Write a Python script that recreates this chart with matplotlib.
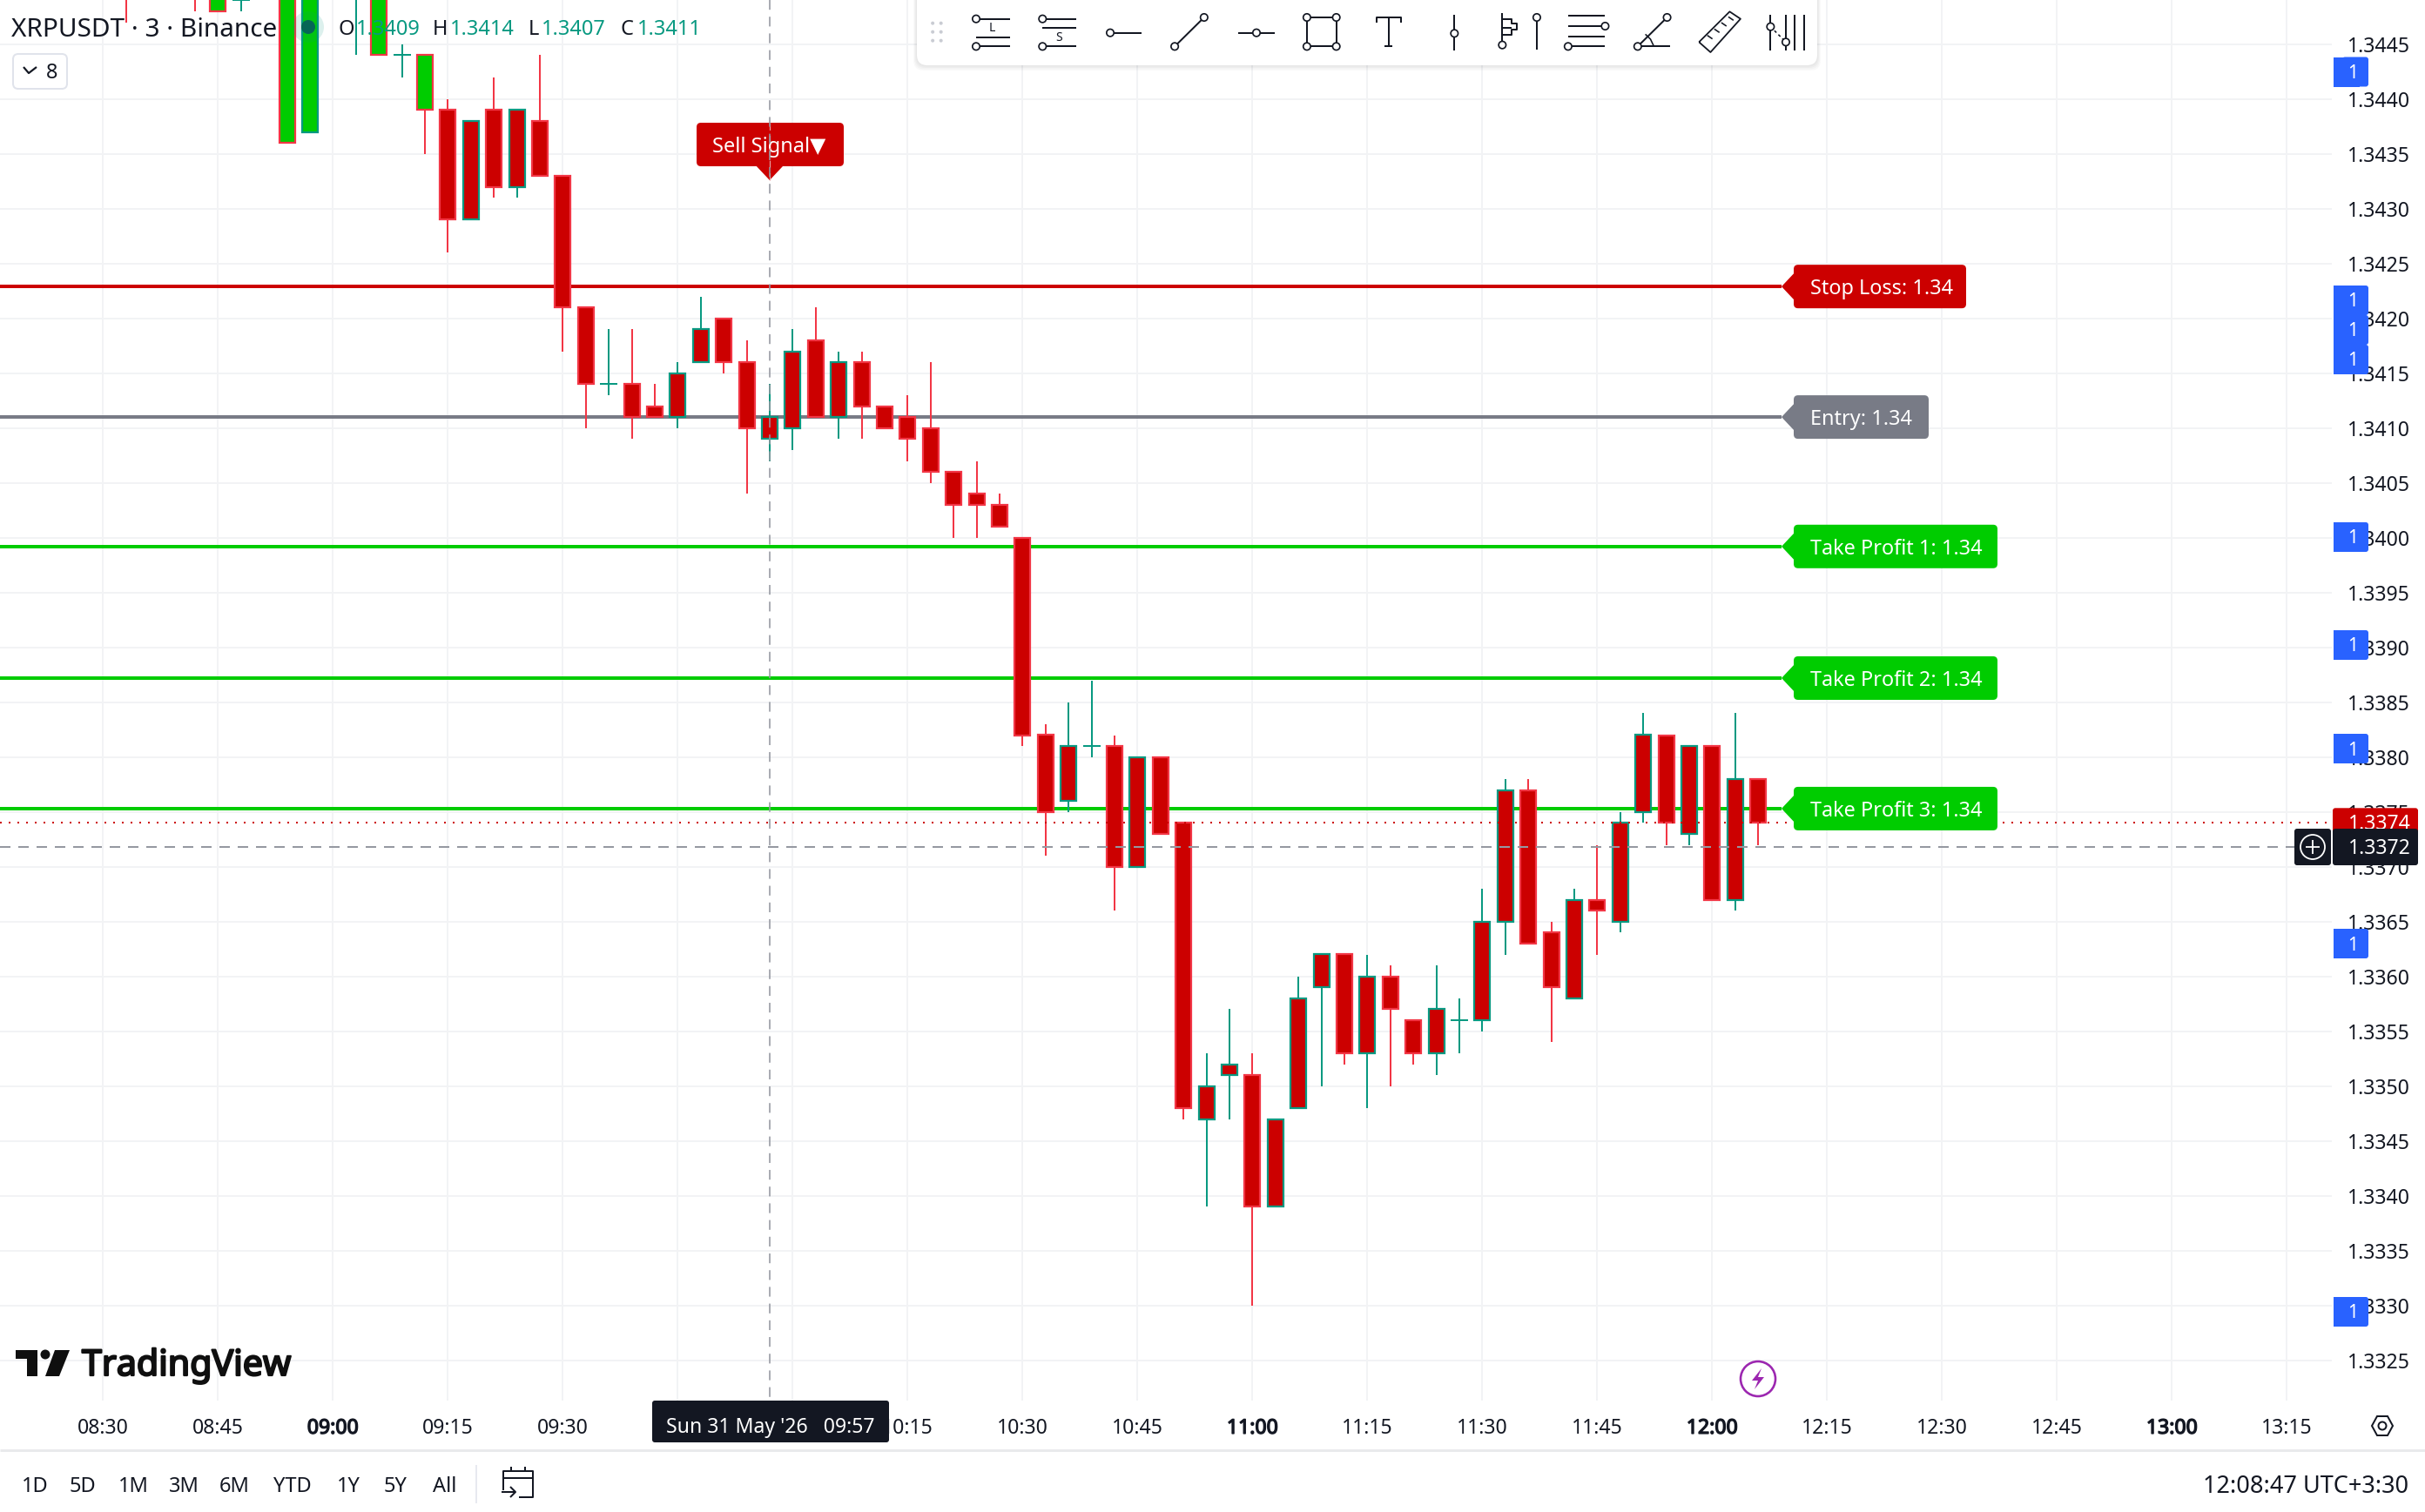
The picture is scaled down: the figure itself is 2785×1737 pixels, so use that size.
import matplotlib
matplotlib.use("Agg")
import matplotlib.pyplot as plt
import matplotlib.patheffects as pe
from matplotlib.patches import Rectangle, FancyBboxPatch, Polygon, Circle

plt.rcParams['font.family'] = ['Noto Sans', 'DejaVu Sans']

# ---------- data ----------
bar_times = ["08:33","08:36","08:39","08:42","08:45","08:48","08:51","08:54","08:57","09:00",
             "09:03","09:06","09:09","09:12","09:15","09:18","09:21","09:24","09:27","09:30",
             "09:33","09:36","09:39","09:42","09:45","09:48","09:51","09:54","09:57","10:00",
             "10:03","10:06","10:09","10:12","10:15","10:18","10:21","10:24","10:27","10:30",
             "10:33","10:36","10:39","10:42","10:45","10:48","10:51","10:54","10:57","11:00",
             "11:03","11:06","11:09","11:12","11:15","11:18","11:21","11:24","11:27","11:30",
             "11:33","11:36","11:39","11:42","11:45","11:48","11:51","11:54","11:57","12:00",
             "12:03","12:06"]
opens = [1.3453,1.3455,1.3456,1.3453,1.3452,1.3449,1.3452,1.3450,1.3437,1.3455,
         1.3450,1.3453,1.3444,1.3444,1.3439,1.3429,1.3439,1.3432,1.3438,1.3433,
         1.3421,1.3414,1.3414,1.3412,1.3411,1.3416,1.3420,1.3416,1.3409,1.3410,
         1.3418,1.3411,1.3416,1.3412,1.3411,1.3410,1.3406,1.3404,1.3403,1.3400,
         1.3382,1.3376,1.3381,1.3381,1.3370,1.3380,1.3374,1.3347,1.3351,1.3351,
         1.3339,1.3348,1.3359,1.3362,1.3353,1.3360,1.3356,1.3353,1.3356,1.3356,
         1.3365,1.3377,1.3364,1.3358,1.3367,1.3365,1.3375,1.3382,1.3373,1.3381,
         1.3367,1.3378]
closes = [1.3450,1.3452,1.3453,1.3451,1.3448,1.3449,1.3450,1.3436,1.3453,1.3453,
          1.3454,1.3444,1.3444,1.3439,1.3429,1.3438,1.3432,1.3439,1.3433,1.3421,
          1.3414,1.3414,1.3411,1.3411,1.3415,1.3419,1.3416,1.3410,1.3411,1.3417,
          1.3411,1.3416,1.3412,1.3410,1.3409,1.3406,1.3403,1.3403,1.3401,1.3382,
          1.3375,1.3381,1.3381,1.3370,1.3380,1.3373,1.3348,1.3350,1.3352,1.3339,
          1.3347,1.3358,1.3362,1.3353,1.3360,1.3357,1.3353,1.3357,1.3356,1.3365,
          1.3377,1.3363,1.3359,1.3367,1.3366,1.3374,1.3382,1.3374,1.3381,1.3367,
          1.3378,1.3374]
highs = [1.3454,1.3456,1.3457,1.3454,1.3452,1.3450,1.3453,1.3451,1.3454,1.3456,
         1.3455,1.3454,1.3445,1.3444,1.3440,1.3438,1.3442,1.3439,1.3444,1.3433,
         1.3421,1.3419,1.3419,1.3414,1.3416,1.3422,1.3420,1.3418,1.3414,1.3419,
         1.3421,1.3417,1.3417,1.3412,1.3413,1.3416,1.3406,1.3407,1.3404,1.3400,
         1.3383,1.3385,1.3387,1.3382,1.3380,1.3380,1.3374,1.3353,1.3357,1.3353,
         1.3347,1.3360,1.3362,1.3362,1.3362,1.3361,1.3356,1.3361,1.3358,1.3368,
         1.3378,1.3378,1.3365,1.3368,1.3372,1.3375,1.3384,1.3382,1.3381,1.3381,
         1.3384,1.3378]
lows = [1.3447,1.3451,1.3452,1.3448,1.3448,1.3448,1.3449,1.3436,1.3437,1.3452,
        1.3444,1.3444,1.3442,1.3435,1.3426,1.3429,1.3431,1.3431,1.3433,1.3417,
        1.3410,1.3413,1.3409,1.3411,1.3410,1.3416,1.3415,1.3404,1.3407,1.3408,
        1.3411,1.3409,1.3409,1.3410,1.3407,1.3405,1.3400,1.3400,1.3401,1.3381,
        1.3371,1.3375,1.3380,1.3366,1.3370,1.3373,1.3347,1.3339,1.3347,1.3330,
        1.3339,1.3348,1.3350,1.3352,1.3348,1.3350,1.3352,1.3351,1.3353,1.3355,
        1.3362,1.3363,1.3354,1.3358,1.3362,1.3364,1.3374,1.3372,1.3372,1.3367,
        1.3366,1.3372]
last_green_filled_bar = "09:12"

price_ticks = [1.3445,1.3440,1.3435,1.3430,1.3425,1.3420,1.3415,1.3410,1.3405,1.3400,1.3395,
               1.3390,1.3385,1.3380,1.3375,1.3370,1.3365,1.3360,1.3355,1.3350,1.3345,1.3340,
               1.3335,1.3330,1.3325]
time_ticks = ["08:30","08:45","09:00","09:15","09:30","09:45","10:00","10:15","10:30","10:45",
              "11:00","11:15","11:30","11:45","12:00","12:15","12:30","12:45","13:00","13:15"]
bold_time_ticks = ["09:00","11:00","12:00","13:00"]

level_names = ["Stop Loss: 1.34","Entry: 1.34","Take Profit 1: 1.34","Take Profit 2: 1.34","Take Profit 3: 1.34"]
level_prices = [1.34229,1.3411,1.33992,1.33872,1.33753]
last_price = 1.3374
cursor_price = 1.33718
cursor_time = "09:57"
signal_time = "09:57"
range_buttons = ["1D","5D","1M","3M","6M","YTD","1Y","5Y","All"]

# ---------- style ----------
W, H = 2785, 1737
PANE_R, PANE_B = 2678, 1609
RED, REDB, TEAL, GREEN = "#cc0000", "#f23645", "#089981", "#00cc00"
GRAY, INK, DARK, BLUE = "#787b86", "#131722", "#131722", "#2962ff"
GRID = "#f2f3f5"
px = 0.72  # points per pixel at dpi 100
FS = 16.6
DY = 3     # optical shift of centred text

def mins(s):
    h, m = s.split(":")
    return int(h) * 60 + int(m)

fig = plt.figure(figsize=(W / 100, H / 100), dpi=100, facecolor="white")
ax = fig.add_axes([0, 1 - PANE_B / H, PANE_R / W, PANE_B / H], zorder=1)
ax.set_xlim(660 - 1438.3 / 8.8, 660 + (PANE_R - 1438.3) / 8.8)
ax.set_ylim(1.3385 - (PANE_B - 806.7) / 126000, 1.3385 + 806.7 / 126000)
for s in ax.spines.values():
    s.set_visible(False)

ax.yaxis.tick_right()
ax.set_yticks(price_ticks)
ax.set_yticklabels([f"{p:.4f}" for p in price_ticks], fontsize=FS, color=INK)
ax.set_xticks([mins(t) for t in time_ticks])
ax.set_xticklabels(time_ticks, fontsize=FS, color=INK)
for lab, t in zip(ax.get_xticklabels(), time_ticks):
    if t in bold_time_ticks:
        lab.set_path_effects([pe.withStroke(linewidth=1.0, foreground=INK)])
ax.tick_params(axis="x", length=0, pad=14.3)
ax.tick_params(axis="y", length=0, pad=13)
ax.grid(True, color=GRID, lw=2 * px, zorder=0)
ax.set_axisbelow(True)

# level lines end at the label tips
tip_t = 660 + (2046 - 1438.3) / 8.8
level_colors = [RED, GRAY, GREEN, GREEN, GREEN]
for p, c in zip(level_prices, level_colors):
    ax.plot([ax.get_xlim()[0], tip_t], [p, p], color=c, lw=4 * px, zorder=2, solid_capstyle="butt")

# candles
half = 9 / 8.8
for t, o, h, l, c in zip(bar_times, opens, highs, lows, closes):
    x = mins(t)
    up = c >= o
    edge = TEAL if up else REDB
    fill = GREEN if x <= mins(last_green_filled_bar) else RED
    ax.plot([x, x], [l, h], color=edge, lw=2 * px, zorder=3, solid_capstyle="butt")
    lo, hi = min(o, c), max(o, c)
    if hi == lo:
        ax.plot([x - half - 1 / 8.8, x + half + 1 / 8.8], [lo, lo], color=edge, lw=2 * px, zorder=4,
                solid_capstyle="butt")
    else:
        ax.add_patch(Rectangle((x - half, lo), 2 * half, hi - lo, facecolor=fill, edgecolor=edge,
                               lw=2.2 * px, zorder=4))

ax.plot(ax.get_xlim(), [last_price, last_price], color=RED, lw=2 * px, ls=(0, (1, 4)), zorder=5)

# ---------- overlay in pixel space ----------
ui = fig.add_axes([0, 0, 1, 1], zorder=10)
ui.set_xlim(0, W)
ui.set_ylim(H, 0)
ui.axis("off")
ui.patch.set_alpha(0)

def py(p):
    return H - ax.transData.transform((0, p))[1]

def tx(t):
    return ax.transData.transform((mins(t), 0))[0]

def rbox(x0, y0, x1, y1, r=4, fc="white", ec="none", lw=0, z=20, alpha=None):
    b = FancyBboxPatch((x0 + r, y0 + r), x1 - x0 - 2 * r, y1 - y0 - 2 * r,
                       boxstyle=f"round,pad={r},rounding_size={r}", fc=fc, ec=ec, lw=lw, zorder=z, alpha=alpha)
    ui.add_patch(b)
    return b

def line(xs, ys, c=INK, lw=2, z=30, **k):
    ui.plot(xs, ys, color=c, lw=lw * px, zorder=z, solid_capstyle=k.pop("cap", "butt"), **k)

# crosshair
cx, cy = tx(cursor_time), py(cursor_price)
line([cx, cx], [0, PANE_B], c="#9598a1", lw=1.6, z=25, ls=(0, (7, 5)))
line([0, 2635], [cy, cy], c="#9598a1", lw=2, z=25, ls=(0, (6, 4.5)))

# level labels
level_right = [2258, 2215, 2294, 2294, 2294]
for name, p, c, xr in zip(level_names, level_prices, level_colors, level_right):
    y = py(p)
    rbox(2060, y - 25, xr, y + 25, r=5, fc=c, z=20)
    ui.add_patch(Polygon([[2046, y], [2062, y - 17], [2062, y + 17]], fc=c, ec="none", zorder=20))
    ui.text(2079, y + DY, name, color="white", fontsize=16.9, va="center", ha="left", zorder=21)

# sell label
sx = tx(signal_time)
rbox(800, 141, 969, 191, r=5, fc=RED, z=20)
ui.add_patch(Polygon([[sx - 16, 190], [sx + 16, 190], [sx, 207]], fc=RED, ec="none", zorder=20))
ui.text(sx - 1, 166 + DY, "Sell Signal▼", color="white", fontsize=17, va="center", ha="center", zorder=21)
line([cx, cx], [141, 207], c="#e8a0a0", lw=1.2, z=22, ls=(0, (7, 5)))

# legend
ui.text(13, 31 + DY, "XRPUSDT · 3 · Binance", fontsize=21.4, color=INK, va="center", ha="left", zorder=21)
ui.add_patch(Circle((354, 31), 18, fc=TEAL, alpha=0.14, ec="none", zorder=20))
ui.add_patch(Circle((354, 31), 8, fc="#056656", ec="none", zorder=21))
ohlc = [("O", 389, "1.3409"), ("H", 497, "1.3414"), ("L", 607, "1.3407"), ("C", 712, "1.3411")]
for letter, x, v in ohlc:
    ui.text(x, 31 + DY, letter, fontsize=17, color=INK, va="center", ha="left", zorder=21)
    ui.text(x + (15 if letter == "L" else 20), 31 + DY, v,
            fontsize=17, color=TEAL, va="center", ha="left", zorder=21)
rbox(15, 62, 77, 102, r=6, fc="white", ec="#e0e3eb", lw=2 * px, z=20)
line([27, 33, 42], [77, 84, 77], c=INK, lw=2.2)
ui.text(60, 82 + 2, "8", fontsize=17, color=INK, va="center", ha="center", zorder=31)

# price axis badges
for yc in [82.5, 345, 379, 413, 617, 741, 860, 1084, 1507]:
    ui.add_patch(Rectangle((2680, yc - 17), 30, 34, fc=BLUE, ec="none", zorder=20))
    rbox(2690, yc - 17, 2720, yc + 17, r=3, fc=BLUE, z=20)
    ui.text(2702, yc + 2, "1", fontsize=15, color="white", va="center", ha="center", zorder=21)

# last price / cursor price tags
ylp = py(last_price)
rbox(2679, ylp - 17, 2777, ylp + 20, r=3, fc=RED, z=20)
ui.text(2697, ylp + 2, f"{last_price:.4f}", color="white", fontsize=FS, va="center", ha="left", zorder=21)
rbox(2679, cy - 21, 2777, cy + 21, r=3, fc=DARK, z=22)
ui.text(2697, cy + 2, f"{cursor_price:.4f}", color="white", fontsize=FS, va="center", ha="left", zorder=23)
rbox(2635, cy - 21, 2677, cy + 21, r=3, fc=DARK, z=22)
ui.add_patch(Circle((2656, cy), 14, fc="none", ec="white", lw=1.8 * px, zorder=23))
line([2648, 2664], [cy, cy], c="white", lw=1.8, z=23)
line([2656, 2656], [cy - 8, cy + 8], c="white", lw=1.8, z=23)

# time cursor tag
rbox(749, 1609, 1021, 1657, r=3, fc=DARK, z=22)
ui.text(885, 1637 + 3, "Sun 31 May '26   09:57", color="white", fontsize=FS, va="center", ha="center", zorder=23)

# separator and bottom bar
line([0, W], [1666, 1666], c="#e9eaec", lw=3, z=20)
line([547, 547], [1683, 1727], c="#e0e3eb", lw=1.5, z=20)
for lab, x in zip(range_buttons, [40, 95, 153, 211, 269, 336, 400, 454, 511]):
    ui.text(x, 1705 + DY, lab, fontsize=17, color=INK, va="center", ha="center", zorder=21)
ui.text(2766, 1705 + DY, "12:08:47 UTC+3:30", fontsize=19.5, color=INK, va="center", ha="right", zorder=21)
# calendar icon
line([578, 578, 612, 612, 596], [1712, 1690, 1690, 1720, 1720], lw=2)
line([578, 612], [1698, 1698], lw=2)
line([587, 587], [1685, 1690], lw=2)
line([603, 603], [1685, 1690], lw=2)
line([576, 592], [1714, 1714], lw=2)
line([586, 592, 586], [1708, 1714, 1720], lw=2)
# settings hexagon
ui.add_patch(Polygon([[2724, 1638], [2730, 1627], [2742, 1627], [2748, 1638], [2742, 1649], [2730, 1649]],
                     fc="white", ec=INK, lw=2 * px, zorder=21))
ui.add_patch(Circle((2736, 1638), 4.5, fc="white", ec=INK, lw=2 * px, zorder=22))
# lightning badge
ui.add_patch(Circle((2019, 1584), 20, fc="white", ec="#9c27b0", lw=2.6 * px, zorder=21))
ui.add_patch(Polygon([[2023, 1572], [2012, 1586], [2019, 1586], [2015, 1596], [2026, 1582], [2019, 1582]],
                     fc="#9c27b0", ec="none", zorder=22))

# logo
ui.add_patch(Polygon([[18, 1551], [43, 1551], [43, 1581], [31, 1581], [31, 1561], [18, 1561]], fc="#0f0f0f", ec="none", zorder=21))
ui.add_patch(Circle((52, 1556), 5.5, fc="#0f0f0f", ec="none", zorder=21))
ui.add_patch(Polygon([[63, 1551], [80, 1551], [68, 1581], [52, 1581]], fc="#0f0f0f", ec="none", zorder=21))
ui.text(94, 1569, "TradingView", fontsize=29.6, color="#0f0f0f", va="center", ha="left", zorder=21,
        path_effects=[pe.withStroke(linewidth=1.6, foreground="#0f0f0f")])

# drawing toolbar
for i in range(4, 0, -1):
    rbox(1053 - i, -20, 2087 + i, 75 + i * 1.5, r=12, fc="black", alpha=0.025, z=40)
rbox(1053, -20, 2087, 75, r=12, fc="white", z=41)
X = lambda z: 1000 + z / 1.3635
Y = lambda z: z / 3.0
def tl(xs, ys, lw=2, **k):
    line([X(a) for a in xs], [Y(b) for b in ys], lw=lw, z=42, **k)
def node(a, b):
    ui.add_patch(Circle((X(a), Y(b)), 4.2, fc="white", ec=INK, lw=1.7 * px, zorder=43))
for a in (97, 110):
    for b in (80, 110, 140):
        ui.add_patch(Circle((X(a), Y(b)), 2, fc="#c9ccd3", ec="none", zorder=42))
tl([165, 218], [65, 65]); node(165, 65); tl([165, 218], [130, 130]); tl([165, 218], [160, 160]); node(165, 160)
ui.text(X(190), Y(97), "L", fontsize=10, ha="center", va="center", color=INK, zorder=43)
tl([269, 322], [65, 65]); node(269, 65); tl([268, 322], [95, 95]); tl([269, 322], [160, 160]); node(269, 160)
ui.text(X(295), Y(130), "S", fontsize=10, ha="center", va="center", color=INK, zorder=43)
tl([375, 424], [113, 113]); node(375, 113)
tl([476, 522], [160, 60]); node(476, 160); node(522, 60)
tl([576, 632], [113, 113]); node(604, 113)
tl([683, 729, 729, 683, 683], [60, 60, 160, 160, 60])
for a, b in [(683, 60), (729, 60), (683, 160), (729, 160)]:
    node(a, b)
tl([792, 792, 830, 830], [78, 60, 60, 78]); tl([811, 811], [60, 160]); tl([805, 817], [160, 160])
tl([914, 914], [52, 175]); node(914, 115)
tl([989, 989], [45, 150]); node(989, 155); tl([989, 1003, 1003, 1012, 1012, 1003, 1003, 989], [65, 65, 82, 82, 102, 102, 120, 120])
tl([1043, 1043], [70, 170]); node(1043, 60); tl([989, 1003], [95, 95])
tl([1092, 1150], [53, 53]); tl([1092, 1150], [90, 90]); node(1150, 90); tl([1092, 1150], [125, 125]); tl([1092, 1150], [160, 160]); node(1092, 160)
tl([1201, 1252], [160, 160]); tl([1201, 1247], [160, 60]); node(1201, 160); node(1247, 60)
tl([1213, 1221, 1226], [118, 135, 158], lw=1.6)
tl([1297, 1345, 1362, 1315, 1297], [145, 40, 65, 180, 145], lw=1.8)
for a, b in [(1310, 122), (1321, 100), (1332, 78), (1343, 58)]:
    tl([a, a + 8], [b, b + 12], lw=1.6)
for a in (1409, 1433, 1447, 1461):
    tl([a, a], [52, 175])
tl([1409, 1433], [92, 145], lw=1.6, ls=(0, (2, 2)))
node(1409, 92); node(1433, 145)

fig.savefig("out.png", dpi=100)
